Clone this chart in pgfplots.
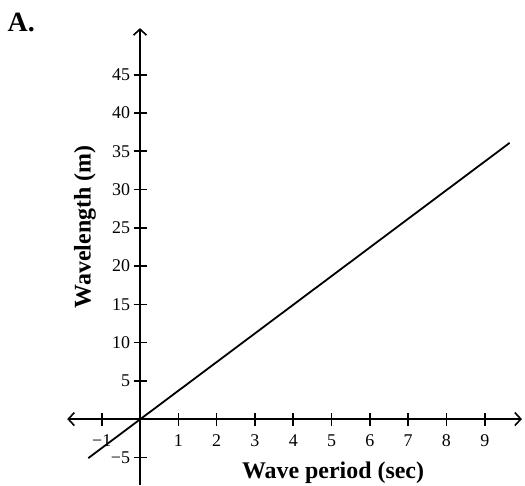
\documentclass[border=0pt]{standalone}
\usepackage{fontspec}
\setmainfont{Liberation Serif}
\usepackage{pgfplots}
\pgfplotsset{compat=1.18}
\usetikzlibrary{arrows.meta}

\begin{document}
\begin{tikzpicture}
\begin{axis}[
    x=38.3bp, y=7.65bp,
    axis lines=middle,
    xmin=-1.9, xmax=9.97,
    ymin=-8.6, ymax=51.1,
    axis line style={line width=1.8bp},
    x axis line style={{Straight Barb[length=6bp,width=13bp,line width=1.6bp]}-{Straight Barb[length=6bp,width=13bp,line width=1.6bp]}},
    y axis line style={-{Straight Barb[length=6bp,width=13bp,line width=1.6bp]}},
    xtick={-1,1,2,3,4,5,6,7,8,9},
    xticklabels={−1,1,2,3,4,5,6,7,8,9},
    ytick={-5,5,10,15,20,25,30,35,40,45},
    yticklabels={−5,5,10,15,20,25,30,35,40,45},
    major tick length=13bp,
    tick align=center,
    tick style={line width=1.6bp, black},
    tick label style={font=\fontsize{18}{18}\selectfont},
    xticklabel style={yshift=-5bp, anchor=north, text height=12bp, text depth=0bp},
    clip=false,
]
\addplot[black, line width=1.8bp] coordinates {(-1.35,-5.1) (9.65,36.1)};

\node[font=\bfseries\fontsize{24}{24}\selectfont] at (axis cs:5.04,-7.06) {Wave period (sec)};
\node[font=\bfseries\fontsize{24}{24}\selectfont, rotate=90] at (axis cs:-1.436,25.1) {Wavelength (m)};
\node[font=\bfseries\fontsize{28}{28}\selectfont] at (axis cs:-3.1,51.8) {A.};

\coordinate (bl) at (axis cs:-3.655,-8.63);
\coordinate (tr) at (axis cs:10.05,54.77);
\end{axis}
\pgfresetboundingbox
\path[use as bounding box] (bl) rectangle (tr);
\end{tikzpicture}
\end{document}
